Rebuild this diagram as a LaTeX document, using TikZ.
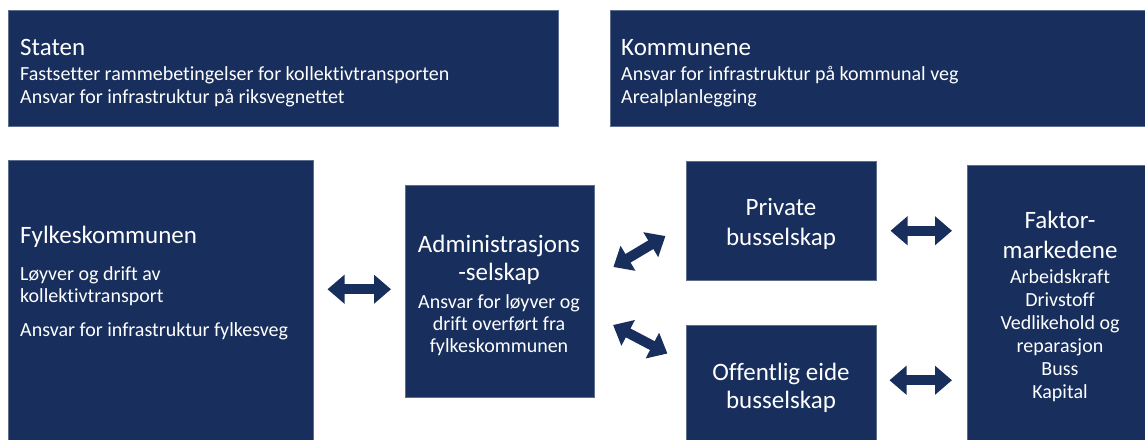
\documentclass[tikz,border=0pt]{standalone}
\usepackage{fontspec}
\setmainfont[Ligatures=NoCommon]{Carlito}
\usetikzlibrary{arrows.meta,positioning}
\definecolor{navy}{RGB}{24,46,92}

\begin{document}
\begin{tikzpicture}[x=1pt,y=-1pt]
\tikzstyle{box}=[rectangle, fill=navy, draw=navy!70!white, line width=0.5pt, anchor=north west, inner sep=0pt]
\tikzstyle{head}=[text=white, font=\fontsize{25}{29}\selectfont, inner sep=0pt]
\tikzstyle{txt}=[text=white, font=\fontsize{20}{23}\selectfont, inner sep=0pt]
\tikzstyle{link}=[line width=10pt, navy, {Triangle[length=17pt,width=28pt]}-{Triangle[length=17pt,width=28pt]}]

\useasboundingbox (0,0) rectangle (1145,439);

%% Top row
  \node[box, minimum width=550, minimum height=116] (staten) at (8,10) {};
  \node[box, minimum width=545, minimum height=116] (kommune) at (610,10) {};

  % multi-line texts sit on the baseline of their last line
  \node[head, anchor=base west] (statenT) at (20,55) {Staten};
  \node[txt, anchor=base west, align=left] (statenB) at (20,103) {Fastsetter rammebetingelser for kollektivtransporten\\Ansvar for infrastruktur på riksvegnettet};
  \node[head, anchor=base west] (kommuneT) at (621,55) {Kommunene};
  \node[txt, anchor=base west, align=left] (kommuneB) at (621,103) {Ansvar for infrastruktur på kommunal veg\\Arealplanlegging};

%% Fylkeskommunen and administrasjonsselskap
  \node[box, minimum width=305, minimum height=285] (fylke) at (8,160) {};
  \node[box, minimum width=189, minimum height=212] (admin) at (405,185) {};

  \node[head, anchor=base west] (fylkeT) at (20,243) {Fylkeskommunen};
  \node[txt, anchor=base west, align=left, font=\fontsize{20}{22}\selectfont] (fylkeB) at (20,302) {Løyver og drift av\\kollektivtransport};
  \node[txt, anchor=base west] (fylkeC) at (20,336) {Ansvar for infrastruktur fylkesveg};

  \node[head, anchor=base, align=center, font=\fontsize{25}{28}\selectfont] (adminT) at (499,280) {Administrasjons\\-selskap};
  \node[txt, anchor=base, align=center, font=\fontsize{20}{22}\selectfont] (adminB) at (499,352) {Ansvar for løyver og\\drift overført fra\\fylkeskommunen};

%% Busselskap
  \node[box, minimum width=190, minimum height=119] (private) at (686,161) {};
  \node[box, minimum width=190, minimum height=120] (offent) at (686,325) {};

  \node[head, anchor=base, align=center, font=\fontsize{25}{30}\selectfont] (privateT) at (781,245) {Private\\busselskap};
  \node[head, anchor=base, align=center, font=\fontsize{25}{28}\selectfont] (offentT) at (781,408) {Offentlig eide\\busselskap};

%% Faktormarkedene
  \node[box, minimum width=185, minimum height=280] (faktor) at (967,165) {};

  \node[head, anchor=base, align=center, font=\fontsize{25}{30}\selectfont] (faktorT) at (1060,258) {Faktor-\\markedene};
  \node[txt, anchor=base, align=center] (faktorB) at (1060,398) {Arbeidskraft\\Drivstoff\\Vedlikehold og\\reparasjon\\Buss\\Kapital};

%% Connections
  \draw[link, shorten <=14pt, shorten >=14pt] ([yshift=2pt]admin.west -| fylke.east) -- ([yshift=2pt]admin.west);
  \draw[link, shorten <=22pt, shorten >=24pt] ([yshift=13pt]admin.east) -- ([yshift=-3pt]private.west);
  \draw[link, shorten <=21pt, shorten >=21pt] ([yshift=-24pt]admin.east) -- ([yshift=22pt]offent.west);
  \draw[link, shorten <=14pt, shorten >=15pt] ([yshift=-10pt]private.east) -- ([yshift=-10pt]private.east -| faktor.west);
  \draw[link, shorten <=13pt, shorten >=15pt] ([yshift=5pt]offent.east) -- ([yshift=5pt]offent.east -| faktor.west);
\end{tikzpicture}
\end{document}
